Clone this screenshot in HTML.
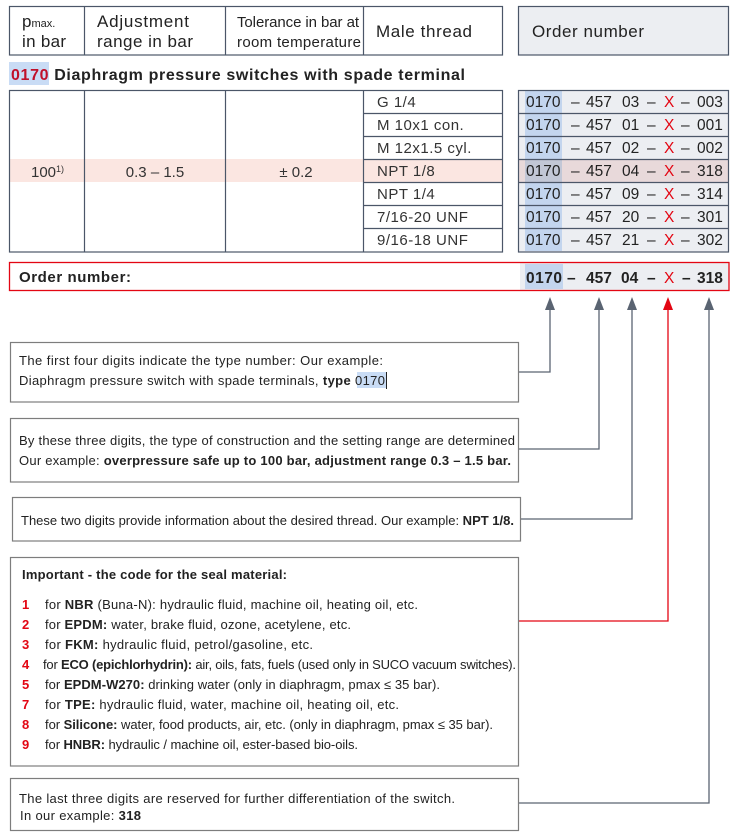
<!DOCTYPE html>
<html><head><meta charset="utf-8"><style>
html,body{margin:0;padding:0;background:#fff;}
svg{display:block;font-family:"Liberation Sans",sans-serif;}
</style></head><body>
<svg width="733" height="839" viewBox="0 0 733 839" xmlns="http://www.w3.org/2000/svg">
<!-- header table -->
<rect x="9.5" y="6.5" width="493" height="48.5" fill="#fff" stroke="#4b5668" stroke-width="1.2"/>
<line x1="84.5" y1="6.5" x2="84.5" y2="55" stroke="#4b5668" stroke-width="1.2"/>
<line x1="225.5" y1="6.5" x2="225.5" y2="55" stroke="#4b5668" stroke-width="1.2"/>
<line x1="363.5" y1="6.5" x2="363.5" y2="55" stroke="#4b5668" stroke-width="1.2"/>
<rect x="518.5" y="6.5" width="210" height="48.5" fill="#eceef2" stroke="#4b5668" stroke-width="1.2"/>
<g fill="#222" font-size="17">
<text x="22" y="27">p<tspan font-size="11">max.</tspan></text>
<text x="22" y="47" textLength="44">in bar</text>
<text x="97" y="27" textLength="92">Adjustment</text>
<text x="97" y="47" textLength="96">range in bar</text>
<text x="237" y="27" font-size="15" textLength="122">Tolerance in bar at</text>
<text x="237" y="47" font-size="15" textLength="124">room temperature</text>
<text x="376" y="37" textLength="96">Male thread</text>
<text x="532" y="37" textLength="112">Order number</text>
</g>
<!-- title -->
<rect x="9" y="62" width="40" height="23" fill="#c9dcf5"/>
<text x="11" y="80" font-size="16" font-weight="bold" fill="#222" textLength="454"><tspan fill="#c0102a">0170</tspan> Diaphragm pressure switches with spade terminal</text>
<!-- pink highlight -->
<rect x="9" y="159" width="494" height="23" fill="#fbe6e1"/>
<!-- data table -->
<g stroke="#4b5668" stroke-width="1.2" fill="none">
<rect x="9.5" y="90.5" width="493" height="161.5"/>
<line x1="84.5" y1="90.5" x2="84.5" y2="252"/>
<line x1="225.5" y1="90.5" x2="225.5" y2="252"/>
<line x1="363.5" y1="90.5" x2="363.5" y2="252"/>
<line x1="363.5" y1="113.5" x2="503" y2="113.5"/>
<line x1="363.5" y1="136.5" x2="503" y2="136.5"/>
<line x1="363.5" y1="159.5" x2="503" y2="159.5"/>
<line x1="363.5" y1="182.5" x2="503" y2="182.5"/>
<line x1="363.5" y1="205.5" x2="503" y2="205.5"/>
<line x1="363.5" y1="228.5" x2="503" y2="228.5"/>
</g>
<g fill="#333" font-size="15">
<text x="31" y="177">100<tspan font-size="9" dy="-5">1)</tspan></text>
<text x="155" y="177" text-anchor="middle">0.3 – 1.5</text>
<text x="296" y="177" text-anchor="middle">± 0.2</text>
<text x="377" y="107" letter-spacing="0.5">G 1/4</text>
<text x="377" y="130" letter-spacing="0.5">M 10x1 con.</text>
<text x="377" y="153" letter-spacing="0.5">M 12x1.5 cyl.</text>
<text x="377" y="176" letter-spacing="0.5">NPT 1/8</text>
<text x="377" y="199" letter-spacing="0.5">NPT 1/4</text>
<text x="377" y="222" letter-spacing="0.5">7/16-20 UNF</text>
<text x="377" y="245" letter-spacing="0.5">9/16-18 UNF</text>
</g>
<!-- order table -->
<rect x="518.5" y="90.5" width="210" height="161.5" fill="#eceef2"/>
<rect x="518.5" y="159" width="210" height="23" fill="#e8d9da"/>
<g fill="#c3d5ee">
<rect x="525" y="91" width="37" height="22"/><rect x="525" y="114" width="37" height="22"/><rect x="525" y="137" width="37" height="22"/>
<rect x="525" y="160" width="37" height="22" fill="#c2c7d6"/><rect x="525" y="183" width="37" height="22"/><rect x="525" y="206" width="37" height="22"/><rect x="525" y="229" width="37" height="22"/>
</g>
<g stroke="#4b5668" stroke-width="1.2" fill="none">
<rect x="518.5" y="90.5" width="210" height="161.5"/>
<line x1="518.5" y1="113.5" x2="728.5" y2="113.5"/>
<line x1="518.5" y1="136.5" x2="728.5" y2="136.5"/>
<line x1="518.5" y1="159.5" x2="728.5" y2="159.5"/>
<line x1="518.5" y1="182.5" x2="728.5" y2="182.5"/>
<line x1="518.5" y1="205.5" x2="728.5" y2="205.5"/>
<line x1="518.5" y1="228.5" x2="728.5" y2="228.5"/>
</g>
<g font-size="15.5" fill="#222">
<g transform="translate(0,107)"><text x="526">0170</text><text x="571">–</text><text x="586">457</text><text x="622">03</text><text x="647">–</text><text x="664" fill="#e30613">X</text><text x="681">–</text><text x="697">003</text></g>
<g transform="translate(0,130)"><text x="526">0170</text><text x="571">–</text><text x="586">457</text><text x="622">01</text><text x="647">–</text><text x="664" fill="#e30613">X</text><text x="681">–</text><text x="697">001</text></g>
<g transform="translate(0,153)"><text x="526">0170</text><text x="571">–</text><text x="586">457</text><text x="622">02</text><text x="647">–</text><text x="664" fill="#e30613">X</text><text x="681">–</text><text x="697">002</text></g>
<g transform="translate(0,176)"><text x="526">0170</text><text x="571">–</text><text x="586">457</text><text x="622">04</text><text x="647">–</text><text x="664" fill="#e30613">X</text><text x="681">–</text><text x="697">318</text></g>
<g transform="translate(0,199)"><text x="526">0170</text><text x="571">–</text><text x="586">457</text><text x="622">09</text><text x="647">–</text><text x="664" fill="#e30613">X</text><text x="681">–</text><text x="697">314</text></g>
<g transform="translate(0,222)"><text x="526">0170</text><text x="571">–</text><text x="586">457</text><text x="622">20</text><text x="647">–</text><text x="664" fill="#e30613">X</text><text x="681">–</text><text x="697">301</text></g>
<g transform="translate(0,245)"><text x="526">0170</text><text x="571">–</text><text x="586">457</text><text x="622">21</text><text x="647">–</text><text x="664" fill="#e30613">X</text><text x="681">–</text><text x="697">302</text></g>
</g>
<!-- order number bar -->
<rect x="520" y="263" width="209" height="27" fill="#eceef2"/>
<rect x="525" y="264" width="38" height="25" fill="#c3d5ee"/>
<rect x="9.5" y="262.5" width="719.5" height="28" fill="none" stroke="#e30613" stroke-width="1.3"/>
<text x="19" y="282" font-size="15" font-weight="bold" fill="#222" textLength="112">Order number:</text>
<g font-size="15.5" font-weight="bold" fill="#222" transform="translate(0,283)">
<text x="526" textLength="36">0170</text><text x="567">–</text><text x="586">457</text><text x="621">04</text><text x="647">–</text><text x="664" fill="#e30613" font-weight="normal">X</text><text x="682">–</text><text x="697">318</text>
</g>
<!-- connectors -->
<g stroke="#5a6472" stroke-width="1.3" fill="none">
<polyline points="519,372 550,372 550,308"/>
<polyline points="519,449 599,449 599,308"/>
<polyline points="521,519 632,519 632,308"/>
<polyline points="519,803 709,803 709,308"/>
</g>
<polyline points="519,621 668,621 668,308" stroke="#e30613" stroke-width="1.3" fill="none"/>
<g fill="#5a6472">
<polygon points="550,297 545,310 555,310"/>
<polygon points="599,297 594,310 604,310"/>
<polygon points="632,297 627,310 637,310"/>
<polygon points="709,297 704,310 714,310"/>
</g>
<polygon points="668,297 663,310 673,310" fill="#e30613"/>
<!-- text boxes -->
<g fill="#fff" stroke="#7d7d7d" stroke-width="1.2">
<rect x="10.5" y="342.5" width="508" height="59.5"/>
<rect x="10.5" y="418.5" width="508" height="63.5"/>
<rect x="12.5" y="497.5" width="508" height="43.5"/>
<rect x="10.5" y="557.5" width="508" height="208.5"/>
<rect x="10.5" y="778.5" width="508" height="52"/>
</g>
<g font-size="13" fill="#222">
<text x="19" y="365" textLength="364">The first four digits indicate the type number: Our example:</text>
<rect x="357" y="372" width="30" height="16" fill="#c9dcf5"/>
<line x1="386.5" y1="372" x2="386.5" y2="389" stroke="#222" stroke-width="1"/>
<text x="19" y="385" textLength="366">Diaphragm pressure switch with spade terminals, <tspan font-weight="bold">type</tspan> 0170</text>
<text x="19" y="445" textLength="496">By these three digits, the type of construction and the setting range are determined</text>
<text x="19" y="465" textLength="492">Our example:  <tspan font-weight="bold">overpressure safe up to 100 bar, adjustment range 0.3 – 1.5 bar.</tspan></text>
<text x="21" y="525" textLength="493">These two digits provide information about the desired thread. Our example: <tspan font-weight="bold">NPT 1/8.</tspan></text>
<text x="22" y="579" font-weight="bold" textLength="265">Important - the code for the seal material:</text>
<g font-weight="bold" fill="#e30613">
<text x="22" y="609">1</text><text x="22" y="629">2</text><text x="22" y="649">3</text><text x="22" y="669">4</text><text x="22" y="689">5</text><text x="22" y="709">7</text><text x="22" y="729">8</text><text x="22" y="749">9</text>
</g>
<text x="45" y="609" textLength="373">for <tspan font-weight="bold">NBR</tspan> (Buna-N): hydraulic fluid, machine oil, heating oil, etc.</text>
<text x="45" y="629" textLength="306">for <tspan font-weight="bold">EPDM:</tspan> water, brake fluid, ozone, acetylene, etc.</text>
<text x="45" y="649" textLength="268">for <tspan font-weight="bold">FKM:</tspan> hydraulic fluid, petrol/gasoline, etc.</text>
<text x="43" y="669" textLength="473">for <tspan font-weight="bold">ECO (epichlorhydrin):</tspan> air, oils, fats, fuels (used only in SUCO vacuum switches).</text>
<text x="45" y="689" textLength="395">for <tspan font-weight="bold">EPDM-W270:</tspan> drinking water (only in diaphragm, pmax ≤ 35 bar).</text>
<text x="45" y="709" textLength="354">for <tspan font-weight="bold">TPE:</tspan> hydraulic fluid, water, machine oil, heating oil, etc.</text>
<text x="45" y="729" textLength="448">for <tspan font-weight="bold">Silicone:</tspan> water, food products, air, etc. (only in diaphragm, pmax ≤ 35 bar).</text>
<text x="45" y="749" textLength="313">for <tspan font-weight="bold">HNBR:</tspan> hydraulic / machine oil, ester-based bio-oils.</text>
<text x="19" y="803" textLength="436">The last three digits are reserved for further differentiation of the switch.</text>
<text x="20" y="820" textLength="121">In our example: <tspan font-weight="bold">318</tspan></text>
</g>
</svg>
</body></html>
